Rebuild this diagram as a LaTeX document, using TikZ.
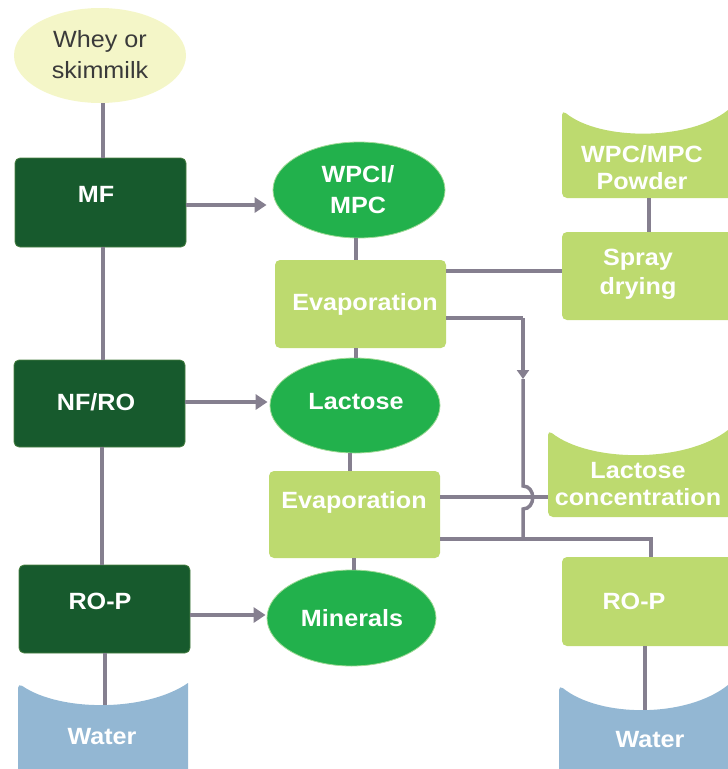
\documentclass[tikz,border=0pt]{standalone}
\usepackage{fontspec}
\setmainfont{Liberation Sans}[FakeStretch=1.07]
\usetikzlibrary{shapes.geometric,arrows.meta,calc}
\definecolor{dkgreen}{HTML}{175A2D}
\definecolor{mdgreen}{HTML}{22B14C}
\definecolor{ltgreen}{HTML}{BDDA6F}
\definecolor{wblue}{HTML}{93B7D3}
\definecolor{wheyc}{HTML}{F4F6C8}
\definecolor{lnc}{HTML}{857F8F}
\definecolor{txtd}{HTML}{3A3A3A}
\begin{document}
\begin{tikzpicture}[x=1pt,y=-1pt,
  conn/.style={draw=lnc,line width=4.5pt},
  arr/.style={conn,-{Triangle[length=12pt,width=15pt]}},
  smallarr/.style={draw=lnc,line width=3.5pt,-{Triangle[length=9pt,width=12pt]}},
  wt/.style={text=white,font=\fontsize{23.5}{31}\selectfont\bfseries,align=center,inner sep=0pt,anchor=base},
  dbox/.style={fill=dkgreen,draw=dkgreen!70!ltgreen,line width=0.8pt,rounded corners=5pt,inner sep=0pt},
  lbox/.style={fill=ltgreen,rounded corners=5pt,inner sep=0pt},
  ell/.style={ellipse,fill=mdgreen,draw=wheyc!60!mdgreen,line width=0.8pt,inner sep=0pt},
  hold/.style={inner sep=0pt}
]
\useasboundingbox (0,0) rectangle (728,769);
\clip (0,0) rectangle (728,769);

% ---------- left column ----------
\node[ellipse,fill=wheyc,inner sep=0pt,minimum width=172pt,minimum height=95pt] (whey) at (100,55.5) {};
\node[text=txtd,font=\fontsize{23.5}{31}\selectfont,align=center,inner sep=0pt,anchor=base] (wheyt) at (100,78) {Whey or\\skimmilk};

\node[dbox,minimum width=171pt,minimum height=89pt] (mf) at (100.5,202.5) {};
\node[wt] (mft) at (96,202) {MF};

\node[dbox,minimum width=171pt,minimum height=87pt] (nfro) at (99.5,403.5) {};
\node[wt] (nfrot) at (96,410) {NF/RO};

\node[dbox,minimum width=171pt,minimum height=88pt] (rop1) at (104.5,609) {};
\node[wt] (rop1t) at (100,609) {RO-P};

\node[hold,minimum width=170pt,minimum height=86pt] (w1) at (103,726) {};
\fill[wblue,rounded corners=5pt] (188,790) -- (18,790) -- (18,683) [sharp corners] .. controls (60,712) and (146,712) .. (188,683) -- cycle;
\coordinate (w1dip) at (105,705);
\node[wt] (w1t) at (102,744) {Water};

% ---------- middle column ----------
\node[ell,minimum width=172pt,minimum height=96pt] (wpci) at (359,190) {};
\node[wt] (wpcit) at (358,213) {WPCI/\\MPC};

\node[lbox,minimum width=171pt,minimum height=88pt] (evap1) at (360.5,304) {};
\node[wt] (evap1t) at (365,310) {Evaporation};

\node[ell,minimum width=170pt,minimum height=95pt] (lac) at (355,405.5) {};
\node[wt] (lact) at (356,409) {Lactose};

\node[lbox,minimum width=171pt,minimum height=87pt] (evap2) at (354.5,514.5) {};
\node[wt] (evap2t) at (354,508) {Evaporation};

\node[ell,minimum width=169pt,minimum height=96pt] (min) at (351.5,618) {};
\node[wt] (mint) at (352,626) {Minerals};

% ---------- right column ----------
\node[hold,minimum width=166pt,minimum height=88pt] (pow) at (645,154) {};
\fill[ltgreen,rounded corners=5pt] (745,198) -- (562,198) -- (562,110) [sharp corners] .. controls (600,141) and (690,141) .. (728,110) -- (745,110) -- cycle;
\node[wt,font=\fontsize{23.5}{27}\selectfont\bfseries] (powt) at (642,189) {WPC/MPC\\Powder};

\node[lbox,minimum width=178pt,minimum height=88pt] (spray) at (651,276) {};
\node[wt,font=\fontsize{23.5}{29}\selectfont\bfseries] (sprayt) at (638,294) {Spray\\drying};

\node[hold,minimum width=180pt,minimum height=87pt] (lconc) at (638,473.5) {};
\fill[ltgreen,rounded corners=5pt] (745,517) -- (548,517) -- (548,430) [sharp corners] .. controls (590,463) and (686,463) .. (728,430) -- (745,430) -- cycle;
\node[wt,font=\fontsize{23.5}{27}\selectfont\bfseries] (lconct) at (638,505) {Lactose\\concentration};

\node[lbox,minimum width=178pt,minimum height=89pt] (rop2) at (651,601.5) {};
\node[wt] (rop2t) at (634,609) {RO-P};

\node[hold,minimum width=169pt,minimum height=84pt] (w2) at (643.5,727) {};
\fill[wblue,rounded corners=5pt] (745,790) -- (559,790) -- (559,685) [sharp corners] .. controls (600,718) and (687,718) .. (728,685) -- (745,685) -- cycle;
\coordinate (w2dip) at (645,710);
\node[wt] (w2t) at (650,747) {Water};

% ---------- connectors ----------
\draw[conn] ($(whey.south)+(3,0)$) -- ($(mf.north)+(2.5,0)$);
\draw[conn] ($(mf.south)+(2.5,0)$) -- ($(nfro.north)+(3.5,0)$);
\draw[conn] ($(nfro.south)+(2.5,0)$) -- ($(rop1.north)+(-2.5,0)$);
\draw[conn] ($(rop1.south)+(0.5,0)$) -- (w1dip);

\coordinate (a1) at ($(mf.east)+(0,2.5)$);
\draw[arr,shorten >=6pt] (a1) -- (a1 -| wpci.west);
\coordinate (a2) at ($(nfro.east)+(0,-1.5)$);
\draw[arr,shorten >=2pt] (a2) -- (a2 -| lac.west);
\coordinate (a3) at ($(rop1.east)+(0,6)$);
\draw[arr,shorten >=1pt] (a3) -- (a3 -| min.west);

\draw[conn] ($(wpci.south)+(-3,0)$) -- ($(evap1.north)+(-4.5,0)$);
\draw[conn] ($(evap1.south)+(-4.5,0)$) -- ($(lac.north)+(1,0)$);
\draw[conn] ($(lac.south)+(-5,0)$) -- ($(evap2.north)+(-4.5,0)$);
\draw[conn] ($(evap2.south)+(-0.5,0)$) -- ($(min.north)+(2.5,0)$);

\coordinate (s1) at ($(evap1.east)+(0,-33)$);
\draw[conn,line width=4pt] (s1) -- (s1 -| spray.west);
\draw[conn,line width=4pt] ($(pow.south)+(4,0)$) -- ($(spray.north)+(-2,0)$);

\coordinate (jt) at (523,318);
\coordinate (ja) at (523,379);
\coordinate (jh1) at (523,486);
\coordinate (jh2) at (523,509);
\coordinate (jb) at (523,539);
\draw[conn,line width=4pt] ($(evap1.east)+(0,14)$) -- (jt);
\draw[smallarr] (jt) -- (ja);
\draw[draw=lnc,line width=3.5pt] (ja) -- (jh1) .. controls ($(jh1)+(13,0)$) and ($(jh2)+(13,0)$) .. (jh2) -- (jb);

\coordinate (s2) at ($(evap2.east)+(0,-17.5)$);
\draw[conn,line width=4pt] (s2) -- (s2 -| lconc.west);
\draw[conn,line width=4pt] ($(evap2.east)+(0,24.5)$) -- (jb) -- (jb -| rop2.north) -- (rop2.north);
\draw[conn,line width=4pt] ($(rop2.south)+(-6,0)$) -- (w2dip);
\end{tikzpicture}
\end{document}
